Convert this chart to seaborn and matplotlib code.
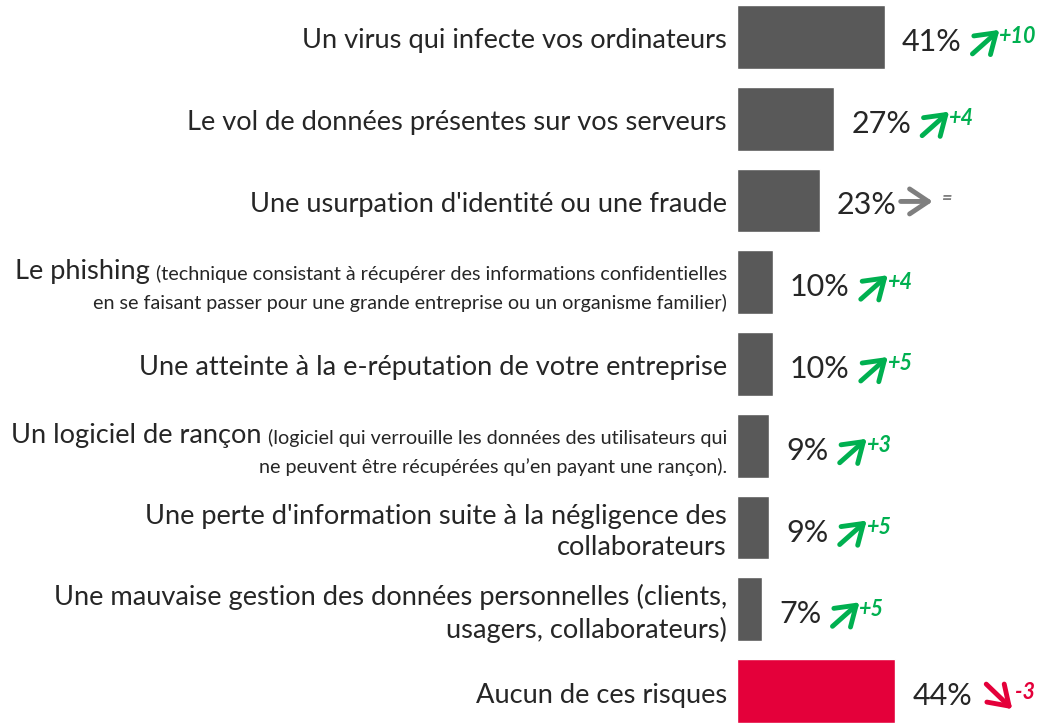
import matplotlib
matplotlib.use("Agg")
import matplotlib.pyplot as plt
from matplotlib.text import OffsetFrom
import seaborn as sns

# data
labels = [
    "Un virus qui infecte vos ordinateurs",
    "Le vol de données présentes sur vos serveurs",
    "Une usurpation d'identité ou une fraude",
    "Le phishing",
    "Une atteinte à la e-réputation de votre entreprise",
    "Un logiciel de rançon",
    "Une perte d'information suite à la négligence des\ncollaborateurs",
    "Une mauvaise gestion des données personnelles (clients,\nusagers, collaborateurs)",
    "Aucun de ces risques",
]
notes = [
    None, None, None,
    ("(technique consistant à récupérer des informations confidentielles",
     "en se faisant passer pour une grande entreprise ou un organisme familier)"),
    None,
    ("(logiciel qui verrouille les données des utilisateurs qui",
     "ne peuvent être récupérées qu\u2019en payant une rançon)."),
    None, None, None,
]
values = [41, 27, 23, 10, 10, 9, 9, 7, 44]
changes = ["+10", "+4", "=", "+4", "+5", "+3", "+5", "+5", "-3"]

GREY_BAR = "#595959"
RED = "#E4003A"
GREEN = "#00B050"
GREY_ARROW = "#7F7F7F"
TEXT = "#262626"

sns.set_theme(style="white")
plt.rcParams["font.family"] = ["Lato", "DejaVu Sans"]

bar_colors = [RED if c.startswith("-") else GREY_BAR for c in changes]
keys = [f"k{i}" for i in range(len(values))]

fig = plt.figure(figsize=(10.41, 7.23), dpi=100)
ax = fig.add_axes([737 / 1041, -9 / 723, 304 / 1041, 736 / 723])

sns.barplot(x=values, y=keys, hue=keys, palette=bar_colors, orient="h",
            width=0.78, legend=False, ax=ax, saturation=1)
ax.set_xlim(0, 84.4)
ax.set_ylim(8.5, -0.5)
ax.set_axis_off()

BIG = 19.6
SMALL = 14.2

ytrans = ax.get_yaxis_transform()
for i, lab in enumerate(labels):
    if notes[i] is None:
        ax.annotate(lab, xy=(0, i), xycoords=ytrans, xytext=(-10, -4),
                    textcoords="offset pixels", ha="right", va="center",
                    multialignment="right", fontsize=BIG, color=TEXT,
                    linespacing=1.3, annotation_clip=False)
    else:
        # small explanatory note on two lines, big label in front of line 1
        first = ax.annotate(notes[i][0], xy=(0, i), xycoords=ytrans,
                            xytext=(-10, 8), textcoords="offset pixels",
                            ha="right", va="center", fontsize=SMALL,
                            color=TEXT, annotation_clip=False)
        ax.annotate(notes[i][1], xy=(0, i), xycoords=ytrans,
                    xytext=(-10, -21), textcoords="offset pixels",
                    ha="right", va="center", fontsize=SMALL, color=TEXT,
                    annotation_clip=False)
        ax.annotate(lab, xy=(0, 0), xycoords=first, xytext=(-6, 4),
                    textcoords="offset pixels", ha="right", va="baseline",
                    fontsize=BIG, color=TEXT, annotation_clip=False)

for i, (v, ch) in enumerate(zip(values, changes)):
    pct = ax.annotate(f"{v}%", xy=(v, i), xytext=(17, -5),
                      textcoords="offset pixels", ha="left", va="center",
                      fontsize=22, color=TEXT, annotation_clip=False)
    if ch == "=":
        col = GREY_ARROW
        start, end, txt_off = (4, 4), (36, 4), (45, 7)
    elif ch.startswith("-"):
        col = RED
        start, end, txt_off = (14, 12), (40, -13), (43, 4)
    else:
        col = GREEN
        start, end, txt_off = (11, -12), (38, 12), (37, 5)
    ref = OffsetFrom(pct, (1, 0.5), unit="pixels")
    ax.annotate("", xy=end, xycoords=ref, xytext=start, textcoords=ref,
                annotation_clip=False,
                arrowprops=dict(arrowstyle="->,head_length=0.45,head_width=0.3",
                                mutation_scale=30, lw=3.5, color=col,
                                shrinkA=0, shrinkB=0))
    ax.annotate(ch, xy=txt_off, xycoords=ref, ha="left", va="center",
                fontsize=15.5 if ch != "=" else 13, fontweight="bold",
                fontstyle="italic", color=col, annotation_clip=False)

fig.savefig("out.png", dpi=100)
